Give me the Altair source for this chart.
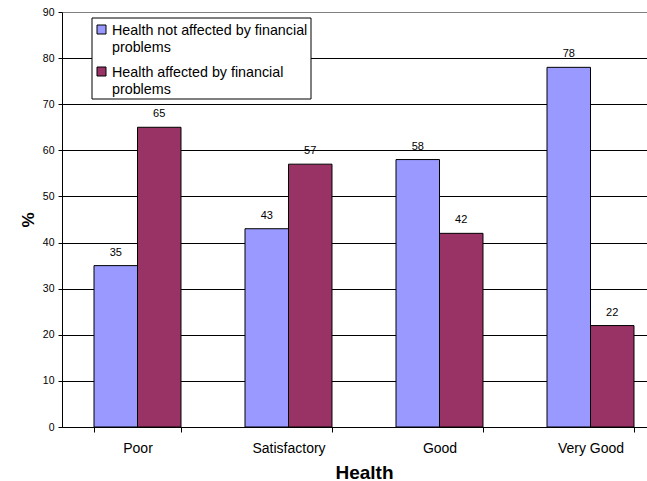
import altair as alt
import pandas as pd

# Share of respondents (%) by self-rated health
categories = ["Poor", "Satisfactory", "Good", "Very Good"]
series = [
    "Health not affected by financial problems",
    "Health affected by financial problems",
]
not_affected = [35, 43, 58, 78]
affected = [65, 57, 42, 22]
colors = ["#9999FF", "#993366"]

rows = []
for i, cat in enumerate(categories):
    rows.append({"Health": cat, "Series": series[0], "Value": not_affected[i]})
    rows.append({"Health": cat, "Series": series[1], "Value": affected[i]})
df = pd.DataFrame(rows)

FONT = "Liberation Sans"

x_enc = alt.X(
    "Health:N",
    sort=categories,
    scale=alt.Scale(range=[0, 604], paddingInner=0.424, paddingOuter=0.212),
    axis=alt.Axis(
        title="Health",
        labelAngle=0,
        labelFontSize=14,
        labelColor="black",
        labelPadding=9,
        tickBand="extent",
        tickSize=5,
        tickColor="black",
        domainColor="black",
        titleFontSize=19,
        titleFontWeight="bold",
        titleColor="black",
        titlePadding=8,
        grid=False,
    ),
)
y_enc = alt.Y(
    "Value:Q",
    scale=alt.Scale(domain=[0, 90], nice=False),
    axis=alt.Axis(
        title="%",
        values=list(range(0, 100, 10)),
        labelFontSize=10.5,
        labelColor="black",
        labelPadding=4,
        tickSize=4,
        tickColor="black",
        domainColor="black",
        gridColor={"condition": {"test": "datum.value == 90", "value": "#808080"}, "value": "black"},
        gridWidth=1,
        titleFontSize=17,
        titleFontWeight="bold",
        titleColor="black",
        titlePadding=5,
    ),
)

base = alt.Chart(df).encode(
    x=x_enc,
    xOffset=alt.XOffset("Series:N", sort=series, scale=alt.Scale(paddingInner=0, paddingOuter=0)),
    y=y_enc,
)

bars = base.mark_bar(stroke="black", strokeWidth=1).encode(
    color=alt.Color("Series:N", sort=series, scale=alt.Scale(domain=series, range=colors), legend=None)
)

labels = base.mark_text(baseline="bottom", dy=-8, fontSize=11, font=FONT, color="black").encode(
    text=alt.Text("Value:Q")
)

# Boxed legend in the upper-left of the plot
one = pd.DataFrame({"k": [0]})
legend_layers = [
    alt.Chart(one).mark_rect(fill="white", stroke="black", strokeWidth=1).encode(
        x=alt.value(30), x2=alt.value(249), y=alt.value(6), y2=alt.value(87)
    )
]
for i, name in enumerate(series):
    top = 13 + 42 * i
    legend_layers.append(
        alt.Chart(one).mark_rect(fill=colors[i], stroke="black", strokeWidth=1).encode(
            x=alt.value(35), x2=alt.value(44), y=alt.value(top), y2=alt.value(top + 9)
        )
    )
    head, tail = name.rsplit(" ", 1)
    legend_layers.append(
        alt.Chart(one).mark_text(
            align="left", baseline="alphabetic", fontSize=14.3, lineHeight=17,
            font=FONT, color="black", text=[head, tail]
        ).encode(x=alt.value(50), y=alt.value(top + 10))
    )

chart = alt.layer(bars, labels, *legend_layers).properties(
    width=585,
    height=415,
    autosize=alt.AutoSizeParams(type="none"),
    padding={"left": 62, "top": 12, "right": 0, "bottom": 54},
).configure_view(stroke=None).configure(font=FONT, background="white")

chart.save("out.html", embed_options={"renderer": "svg", "actions": False})
